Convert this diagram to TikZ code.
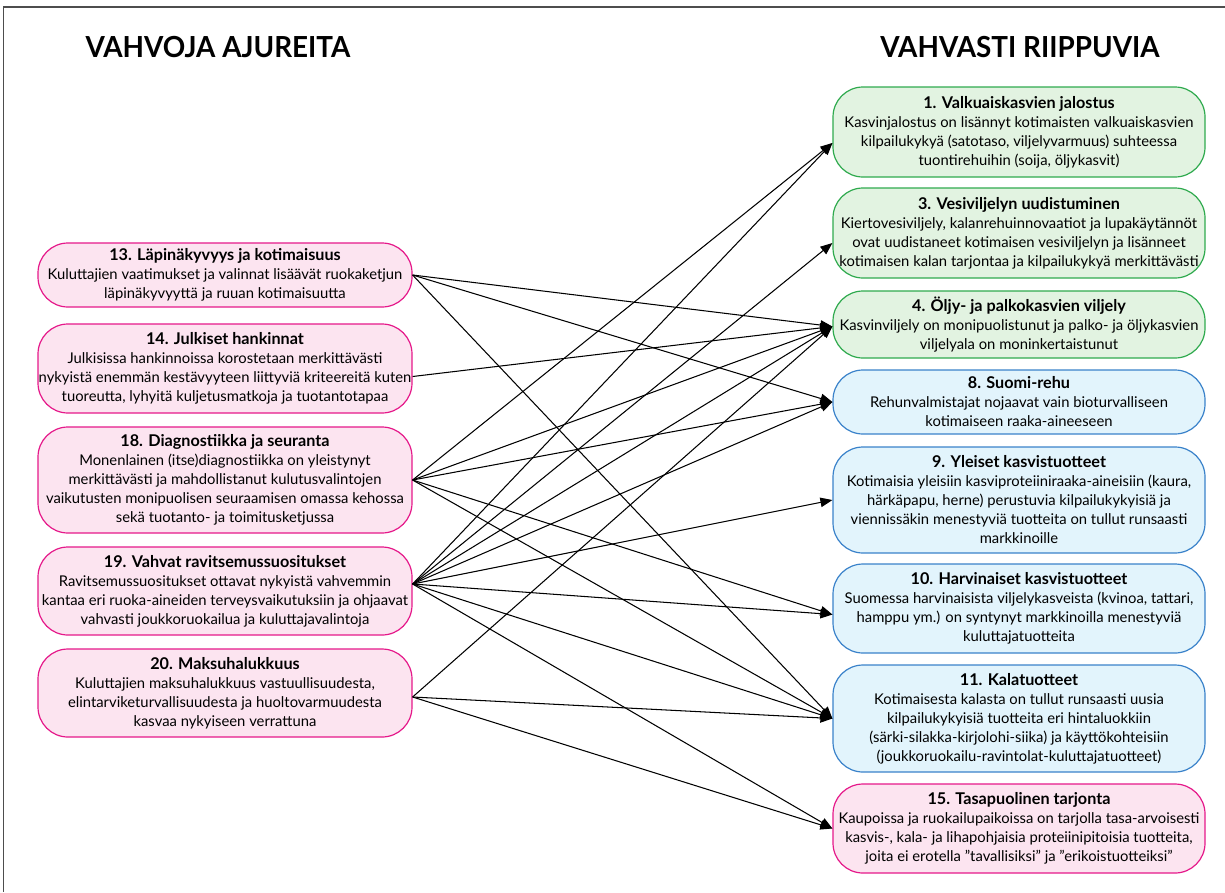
\documentclass[tikz,border=0pt]{standalone}
\usepackage{fontspec}
\usepackage{graphicx}
\setmainfont{Lato}
\usetikzlibrary{arrows.meta}

\definecolor{drvline}{HTML}{E5198A}
\definecolor{drvfill}{HTML}{FCE4F0}
\definecolor{grnline}{HTML}{2FAA4E}
\definecolor{grnfill}{HTML}{E2F3E1}
\definecolor{bluline}{HTML}{3A82CA}
\definecolor{blufill}{HTML}{E2F4FC}
\definecolor{framegray}{HTML}{4D4D4D}

% bold first line of every card
\newcommand{\hd}[1]{{\fontsize{16.2}{19}\selectfont\bfseries #1}}

\tikzset{
  card/.style={draw, line width=1.2pt, rounded corners=30pt, align=center,
    inner sep=0pt, font=\fontsize{14.8}{19}\selectfont},
  driver/.style={card, draw=drvline, fill=drvfill, minimum width=374pt},
  plantcard/.style={card, draw=grnline, fill=grnfill, minimum width=372pt},
  productcard/.style={card, draw=bluline, fill=blufill, minimum width=372pt},
  offercard/.style={card, draw=drvline, fill=drvfill, minimum width=372pt},
  coltitle/.style={font=\fontsize{29}{32}\selectfont\bfseries, inner sep=0pt},
  link/.style={-{Triangle[length=12pt,width=9.5pt]}, line width=1.05pt, black},
}

\begin{document}
\begin{tikzpicture}[x=1pt, y=-1pt]
\useasboundingbox (0,0) rectangle (1225,892);
\draw[framegray, line width=1.6pt] (1225,7) -- (3.5,7) -- (3.5,892);

% column titles
\node[coltitle] (tl) at (218,47) {\scalebox{0.96}[1]{VAHVOJA AJUREITA}};
\node[coltitle] (tr) at (1020,47) {\scalebox{0.96}[1]{VAHVASTI RIIPPUVIA}};

% drivers (left column)
\node[driver, minimum height=64pt] (n13) at (225,275)
  {\hd{13. Läpinäkyvyys ja kotimaisuus}\\
   Kuluttajien vaatimukset ja valinnat lisäävät ruokaketjun\\
   läpinäkyvyyttä ja ruuan kotimaisuutta};
\node[driver, minimum height=89pt] (n14) at (225,368.5)
  {\hd{14. Julkiset hankinnat}\\
   Julkisissa hankinnoissa korostetaan merkittävästi\\
   nykyistä enemmän kestävyyteen liittyviä kriteereitä kuten\\
   tuoreutta, lyhyitä kuljetusmatkoja ja tuotantotapaa};
\node[driver, minimum height=106pt] (n18) at (225,480)
  {\hd{18. Diagnostiikka ja seuranta}\\
   Monenlainen (itse)diagnostiikka on yleistynyt\\
   merkittävästi ja mahdollistanut kulutusvalintojen\\
   vaikutusten monipuolisen seuraamisen omassa kehossa\\
   sekä tuotanto- ja toimitusketjussa};
\node[driver, minimum height=88pt] (n19) at (225,591)
  {\hd{19. Vahvat ravitsemussuositukset}\\
   Ravitsemussuositukset ottavat nykyistä vahvemmin\\
   kantaa eri ruoka-aineiden terveysvaikutuksiin ja ohjaavat\\
   vahvasti joukkoruokailua ja kuluttajavalintoja};
\node[driver, minimum height=88pt] (n20) at (225,693)
  {\hd{20. Maksuhalukkuus}\\
   Kuluttajien maksuhalukkuus vastuullisuudesta,\\
   elintarviketurvallisuudesta ja huoltovarmuudesta\\
   kasvaa nykyiseen verrattuna};

% dependent items (right column)
\node[plantcard, minimum height=90pt] (n1) at (1019,132)
  {\hd{1. Valkuaiskasvien jalostus}\\
   Kasvinjalostus on lisännyt kotimaisten valkuaiskasvien\\
   kilpailukykyä (satotaso, viljelyvarmuus) suhteessa\\
   tuontirehuihin (soija, öljykasvit)};
\node[plantcard, minimum height=90pt] (n3) at (1019,233)
  {\hd{3. Vesiviljelyn uudistuminen}\\
   Kiertovesiviljely, kalanrehuinnovaatiot ja lupakäytännöt\\
   ovat uudistaneet kotimaisen vesiviljelyn ja lisänneet\\
   kotimaisen kalan tarjontaa ja kilpailukykyä merkittävästi};
\node[plantcard, minimum height=67pt] (n4) at (1019,324.5)
  {\hd{4. Öljy- ja palkokasvien viljely}\\
   Kasvinviljely on monipuolistunut ja palko- ja öljykasvien\\
   viljelyala on moninkertaistunut};
\node[productcard, minimum height=64pt] (n8) at (1019,402)
  {\hd{8. Suomi-rehu}\\
   Rehunvalmistajat nojaavat vain bioturvalliseen\\
   kotimaiseen raaka-aineeseen};
\node[productcard, minimum height=106pt] (n9) at (1019,500)
  {\hd{9. Yleiset kasvistuotteet}\\
   Kotimaisia yleisiin kasviproteiiniraaka-aineisiin (kaura,\\
   härkäpapu, herne) perustuvia kilpailukykyisiä ja\\
   viennissäkin menestyviä tuotteita on tullut runsaasti\\
   markkinoille};
\node[productcard, minimum height=89pt] (n10) at (1019,608.5)
  {\hd{10. Harvinaiset kasvistuotteet}\\
   Suomessa harvinaisista viljelykasveista (kvinoa, tattari,\\
   hamppu ym.) on syntynyt markkinoilla menestyviä\\
   kuluttajatuotteita};
\node[productcard, minimum height=107pt] (n11) at (1019,718.5)
  {\hd{11. Kalatuotteet}\\
   Kotimaisesta kalasta on tullut runsaasti uusia\\
   kilpailukykyisiä tuotteita eri hintaluokkiin\\
   (särki-silakka-kirjolohi-siika) ja käyttökohteisiin\\
   (joukkoruokailu-ravintolat-kuluttajatuotteet)};
\node[offercard, minimum height=89pt] (n15) at (1019,828.5)
  {\hd{15. Tasapuolinen tarjonta}\\
   Kaupoissa ja ruokailupaikoissa on tarjolla tasa-arvoisesti\\
   kasvis-, kala- ja lihapohjaisia proteiinipitoisia tuotteita,\\
   joita ei erotella ”tavallisiksi” ja ”erikoistuotteiksi”};

% influences
\draw[link] (n13.east) -- ([yshift=-2pt]n4.west);
\draw[link] (n13.east) -- (n8.west);
\draw[link] (n13.east) -- (n11.west);

\draw[link] ([yshift=-8pt]n14.east) -- ([yshift=-2pt]n4.west);

\draw[link] (n18.east) -- ([yshift=-11pt]n1.west);
\draw[link] (n18.east) -- ([yshift=-2pt]n4.west);
\draw[link] (n18.east) -- (n8.west);
\draw[link] (n18.east) -- ([yshift=-6pt]n10.west);
\draw[link] (n18.east) -- (n11.west);

\draw[link] ([yshift=7pt]n19.east) -- ([yshift=-11pt]n1.west);
\draw[link] ([yshift=7pt]n19.east) -- ([yshift=-10pt]n3.west);
\draw[link] ([yshift=7pt]n19.east) -- ([yshift=-2pt]n4.west);
\draw[link] ([yshift=7pt]n19.east) -- (n8.west);
\draw[link] ([yshift=7pt]n19.east) -- (n9.west);
\draw[link] ([yshift=7pt]n19.east) -- ([yshift=-6pt]n10.west);
\draw[link] ([yshift=7pt]n19.east) -- (n11.west);
\draw[link] ([yshift=7pt]n19.east) -- (n15.west);

\draw[link] ([yshift=-4pt]n20.east) -- ([yshift=-2pt]n4.west);
\draw[link] ([yshift=-4pt]n20.east) -- (n11.west);
\draw[link] ([yshift=-4pt]n20.east) -- (n15.west);
\end{tikzpicture}
\end{document}
